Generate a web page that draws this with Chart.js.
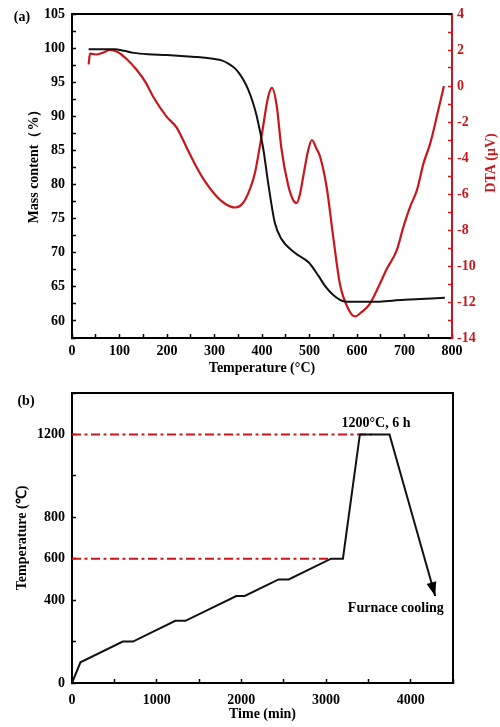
<!DOCTYPE html>
<html>
<head>
<meta charset="utf-8">
<script src="https://cdn.jsdelivr.net/npm/chart.js@4.4.1/dist/chart.umd.min.js"></script>
<style>
  html, body { margin: 0; padding: 0; background: #fff; }
  #wrap { position: relative; width: 500px; height: 727px; background: #fff; }
  #chart-a { position: absolute; left: 0; top: 0; }
  #chart-b { position: absolute; left: 0; top: 380px; }
</style>
</head>
<body>
<div id="wrap">
  <canvas id="chart-a" width="500" height="380"></canvas>
  <canvas id="chart-b" width="500" height="347"></canvas>
</div>
<script>
// (a) courbe TG (masse) et courbe DTA
const tgTemp = [35, 60, 90, 110, 130, 160, 200, 260, 300, 315, 330, 342, 352, 362, 371, 380, 389, 403, 413, 427, 441, 469, 498, 519, 533, 550, 571, 592, 627, 700, 785];
const tgMass = [99.85, 99.85, 99.85, 99.6, 99.3, 99.1, 99.0, 98.7, 98.4, 98.2, 97.7, 97.1, 96.3, 95.2, 93.9, 92.2, 90.0, 85.1, 80.2, 74.4, 72.0, 70.0, 68.6, 66.6, 65.1, 63.8, 62.9, 62.8, 62.8, 63.1, 63.4];

const dtaTemp = [35, 38, 50, 65, 80, 95, 115, 136, 155, 171, 199, 220, 241, 260, 280, 300, 320, 343, 360, 375, 385, 399, 413, 421, 431, 441, 455, 465, 473, 480, 487, 497, 505, 515, 522, 536, 550, 564, 582, 596, 610, 627, 648, 662, 684, 698, 712, 726, 740, 754, 768, 783];
const dtaSignal = [1.2, 1.8, 1.75, 1.85, 2.0, 1.9, 1.5, 0.9, 0.2, -0.6, -1.7, -2.3, -3.4, -4.4, -5.3, -6.0, -6.5, -6.75, -6.5, -5.7, -4.85, -2.8, -0.6, -0.1, -1.1, -3.5, -5.5, -6.3, -6.5, -6.0, -5.0, -3.6, -3.0, -3.5, -3.9, -5.6, -8.4, -11.0, -12.4, -12.8, -12.55, -12.1, -11.0, -10.2, -9.1, -7.8, -6.7, -5.8, -4.3, -3.2, -1.7, 0.0];

// (b) cycle thermique
const profileTime = [0, 100, 600, 720, 1220, 1340, 1940, 2040, 2440, 2560, 3060, 3200, 3400, 3750, 4290];
const profileTemp = [0, 100, 200, 200, 300, 300, 420, 420, 500, 500, 600, 600, 1200, 1200, 420];
const holdLevels = [1200, 600];
const holdLineEnds = [3540, 3060];

// étiquettes affichées sur les axes
const aTempLabels = [0, 100, 200, 300, 400, 500, 600, 700, 800];
const aMassLabels = [60, 65, 70, 75, 80, 85, 90, 95, 100, 105];
const aDtaLabels = [-14, -12, -10, -8, -6, -4, -2, 0, 2, 4];
const bTimeLabels = [0, 1000, 2000, 3000, 4000];
const bTempLabels = [0, 400, 600, 800, 1200];

const RED = '#c8161d';
const FONT_FAMILY = "'Liberation Serif', 'Times New Roman', serif";
const FONT = 'bold 14px ' + FONT_FAMILY;

Chart.defaults.font.family = FONT_FAMILY;
Chart.defaults.font.size = 14;
Chart.defaults.font.weight = 'bold';
Chart.defaults.color = '#000';

const toPoints = (xs, ys) => xs.map((x, i) => ({ x: x, y: ys[i] }));
const onlyLabels = (list) => (value) => (list.includes(value) ? String(value) : '');

// taille fixe des axes, sans marge ajoutée pour les étiquettes
const fixHeight = (h) => (s) => { s.height = h; s.paddingLeft = 0; s.paddingRight = 0; };
const fixWidth = (w) => (s) => { s.width = w; s.paddingTop = 0; s.paddingBottom = 0; };

function drawText(ctx, text, x, y, color, rotation) {
  ctx.save();
  ctx.translate(x, y);
  if (rotation) ctx.rotate(rotation);
  ctx.font = FONT;
  ctx.fillStyle = color;
  ctx.textAlign = 'center';
  ctx.textBaseline = 'middle';
  ctx.fillText(text, 0, 0);
  ctx.restore();
}

// Cadre + titres latéraux du graphique (a)
const decorA = {
  id: 'decorA',
  afterDraw(chart) {
    const { ctx, chartArea: a } = chart;
    ctx.save();
    ctx.strokeStyle = '#000';
    ctx.lineWidth = 2;
    ctx.beginPath();
    ctx.moveTo(a.left - 1, a.top);
    ctx.lineTo(a.right, a.top);
    ctx.stroke();
    ctx.restore();
    drawText(ctx, '(a)', 22, 17, '#000');
    drawText(ctx, 'Mass content（%）', 34, 163, '#000', -Math.PI / 2);
    drawText(ctx, 'DTA (μV)', 491, 163, RED, -Math.PI / 2);
  }
};

// Cadre, flèche et annotations du graphique (b)
const decorB = {
  id: 'decorB',
  afterDraw(chart) {
    const { ctx, chartArea: a, scales } = chart;
    ctx.save();
    ctx.strokeStyle = '#000';
    ctx.lineWidth = 2;
    ctx.beginPath();
    ctx.moveTo(a.left - 1, a.top);
    ctx.lineTo(a.right, a.top);
    ctx.lineTo(a.right, a.bottom + 1);
    ctx.stroke();

    // pointe de flèche au bout du refroidissement
    const pts = chart.getDatasetMeta(0).data;
    const p1 = pts[pts.length - 2];
    const p2 = pts[pts.length - 1];
    const ang = Math.atan2(p2.y - p1.y, p2.x - p1.x);
    const len = 14, half = 5;
    ctx.translate(p2.x, p2.y);
    ctx.rotate(ang);
    ctx.fillStyle = '#000';
    ctx.beginPath();
    ctx.moveTo(0, 0);
    ctx.lineTo(-len, -half);
    ctx.lineTo(-len, half);
    ctx.closePath();
    ctx.fill();
    ctx.restore();

    drawText(ctx, '(b)', 26, 21, '#000');
    drawText(ctx, '1200°C, 6 h', scales.x.getPixelForValue(3590), scales.y.getPixelForValue(1253), '#000');
    drawText(ctx, 'Furnace cooling', scales.x.getPixelForValue(3825), scales.y.getPixelForValue(361), '#000');
  }
};

// Graphique (a)
new Chart(document.getElementById('chart-a'), {
  type: 'line',
  data: {
    datasets: [
      {
        label: 'Mass',
        data: toPoints(tgTemp, tgMass),
        yAxisID: 'y',
        borderColor: '#111',
        borderWidth: 2,
        pointRadius: 0,
        cubicInterpolationMode: 'monotone'
      },
      {
        label: 'DTA',
        data: toPoints(dtaTemp, dtaSignal),
        yAxisID: 'y1',
        borderColor: RED,
        borderWidth: 2.2,
        pointRadius: 0,
        cubicInterpolationMode: 'monotone'
      }
    ]
  },
  options: {
    responsive: false,
    animation: false,
    layout: { padding: { top: 14, left: 0, right: 0, bottom: 0 } },
    plugins: { legend: { display: false }, tooltip: { enabled: false } },
    scales: {
      x: {
        type: 'linear',
        min: 0,
        max: 800,
        afterFit: fixHeight(42),
        border: { color: '#000', width: 2 },
        grid: { drawOnChartArea: false, tickLength: -4, color: '#000', tickWidth: 1.5 },
        ticks: { stepSize: 50, autoSkip: false, maxRotation: 0, padding: 9, callback: onlyLabels(aTempLabels) },
        title: { display: true, text: 'Temperature (°C)', padding: { top: 0, bottom: 3 } }
      },
      y: {
        position: 'left',
        min: 57.5,
        max: 105,
        afterFit: fixWidth(72),
        border: { color: '#000', width: 2 },
        grid: { drawOnChartArea: false, tickLength: -4, color: '#000', tickWidth: 1.5 },
        ticks: { stepSize: 2.5, autoSkip: false, padding: 11, callback: onlyLabels(aMassLabels) }
      },
      y1: {
        position: 'right',
        min: -14,
        max: 4,
        afterFit: fixWidth(48),
        border: { color: RED, width: 2 },
        grid: { drawOnChartArea: false, tickLength: -4, color: RED, tickWidth: 1.5 },
        ticks: { stepSize: 1, autoSkip: false, padding: 9, color: RED, callback: onlyLabels(aDtaLabels) }
      }
    }
  },
  plugins: [decorA]
});

// Graphique (b)
new Chart(document.getElementById('chart-b'), {
  type: 'line',
  data: {
    datasets: [
      {
        label: 'Profile',
        data: toPoints(profileTime, profileTemp),
        borderColor: '#111',
        borderWidth: 2,
        pointRadius: 0,
        tension: 0
      },
      ...holdLevels.map((level, i) => ({
        label: 'Hold ' + level,
        data: [{ x: 0, y: level }, { x: holdLineEnds[i], y: level }],
        borderColor: RED,
        borderWidth: 2,
        borderDash: [9, 3.5, 3, 3.5],
        pointRadius: 0
      }))
    ]
  },
  options: {
    responsive: false,
    animation: false,
    layout: { padding: { top: 13, left: 0, right: 47, bottom: 0 } },
    plugins: { legend: { display: false }, tooltip: { enabled: false } },
    scales: {
      x: {
        type: 'linear',
        min: 0,
        max: 4500,
        afterFit: fixHeight(44),
        border: { color: '#000', width: 2 },
        grid: { drawOnChartArea: false, tickLength: -4, color: '#000', tickWidth: 1.5 },
        ticks: { stepSize: 500, autoSkip: false, maxRotation: 0, padding: 13, callback: onlyLabels(bTimeLabels) },
        title: { display: true, text: 'Time (min)', padding: { top: 0, bottom: 4 } }
      },
      y: {
        position: 'left',
        min: 0,
        max: 1400,
        afterFit: fixWidth(72),
        border: { color: '#000', width: 2 },
        grid: { drawOnChartArea: false, tickLength: -4, color: '#000', tickWidth: 1.5 },
        ticks: { stepSize: 200, autoSkip: false, padding: 11, callback: onlyLabels(bTempLabels) },
        title: { display: true, text: 'Temperature (℃)', padding: { top: 14, bottom: 0 } }
      }
    }
  },
  plugins: [decorB]
});
</script>
</body>
</html>
